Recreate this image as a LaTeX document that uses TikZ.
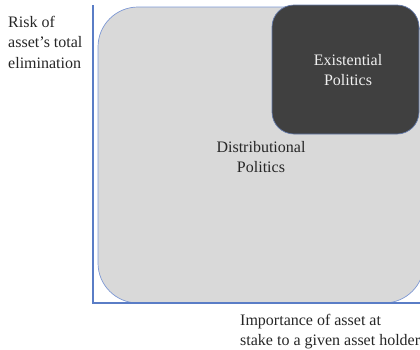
\documentclass[tikz,border=0pt]{standalone}
\usepackage{fontspec}
\setmainfont{Liberation Serif}
\definecolor{axisblue}{HTML}{5A7DC6}
\definecolor{edgeblue}{HTML}{7D98D4}
\definecolor{lightfill}{HTML}{D9D9D9}
\definecolor{darkfill}{HTML}{404040}
\definecolor{txt}{HTML}{262626}
\tikzset{
  axisline/.style={draw=axisblue, line width=1.1pt},
  lightbox/.style={fill=lightfill, draw=edgeblue, line width=0.7pt, rounded corners=40pt},
  darkbox/.style={fill=darkfill, draw=edgeblue!80!black, line width=0.7pt, rounded corners=22pt},
  lbl/.style={font=\fontsize{16}{20.5}\selectfont, inner sep=0pt, text=txt},
}
\begin{document}
\begin{tikzpicture}[x=1pt, y=-1pt]
\useasboundingbox (0,0) rectangle (420,349);
\clip (0,0) rectangle (420,349);
\draw[lightbox] (98,7) rectangle (424,303);
\draw[darkbox] (272,5) rectangle (419,134);
\coordinate (ytop) at (93,5);
\coordinate (origin) at (93,303);
\coordinate (xend) at (421,303);
\draw[axisline] (ytop) -- (origin) -- (xend);
\node[lbl, align=left, anchor=north west] (ylabel) at (8,16) {Risk of\\asset’s total\\elimination};
\node[lbl, align=center, anchor=north, text=white!94!black] (exist) at (348,54) {Existential\\Politics};
\node[lbl, align=center, anchor=north] (distr) at (261,141) {Distributional\\Politics};
\node[lbl, align=left, anchor=north west] (xlabel) at (240,314) {Importance of asset at\\stake to a given asset holder};
\end{tikzpicture}
\end{document}
